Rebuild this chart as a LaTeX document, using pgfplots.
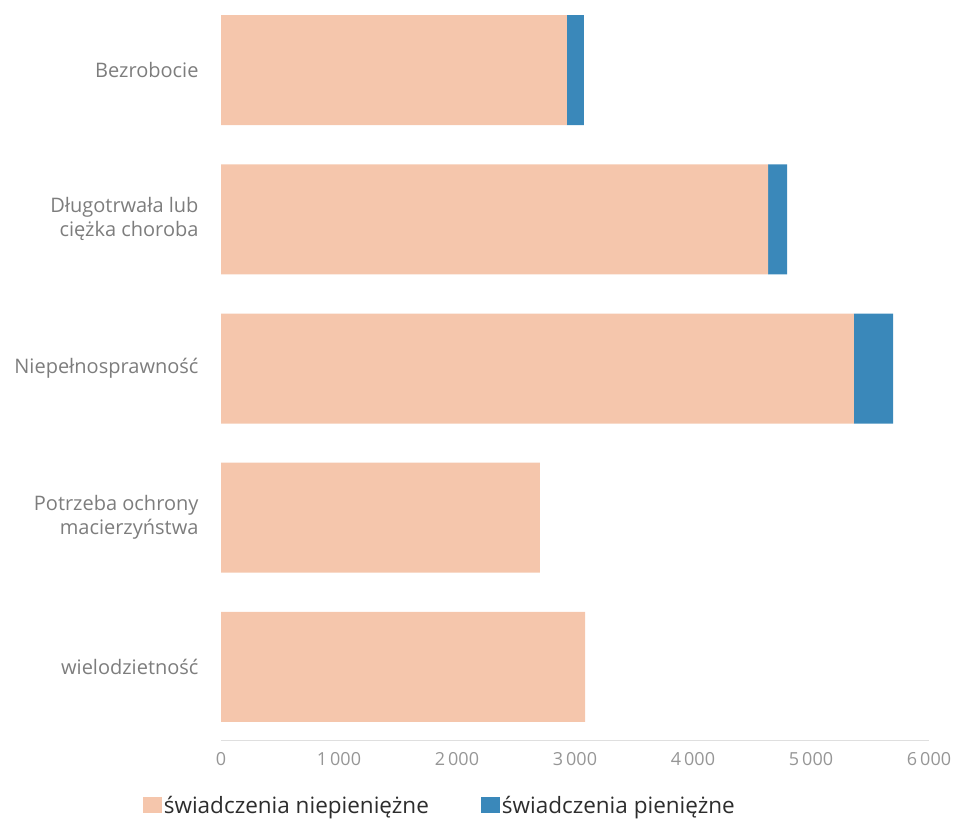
\documentclass[border=0pt]{standalone}
\usepackage{pgfplots}
\pgfplotsset{compat=1.18}
\usepackage{fontspec}
\setmainfont{Open Sans}
\definecolor{peach}{RGB}{245,198,172}
\definecolor{peachL}{RGB}{246,200,162}
\definecolor{blueF}{RGB}{58,136,186}
\definecolor{blueL}{RGB}{50,125,180}
\definecolor{lab}{RGB}{125,125,125}
\definecolor{tick}{RGB}{150,150,150}
\definecolor{leg}{RGB}{45,45,45}
\begin{document}
\begin{tikzpicture}
\path[use as bounding box] (0bp,0bp) rectangle (954bp,820bp);
\begin{axis}[
  at={(221bp,80bp)}, anchor=south west,
  scale only axis, width=708bp, height=740bp,
  xbar stacked, bar width=110bp,
  xmin=0, xmax=6000, ymin=-0.47, ymax=4.49,
  y dir=reverse,
  ytick={0,1,2,3,4},
  yticklabels={Bezrobocie, {Długotrwała lub\\ciężka choroba}, Niepełnosprawność, {Potrzeba ochrony\\macierzyństwa}, wielodzietność},
  xtick={0,1000,2000,3000,4000,5000,6000},
  xticklabels={0, 1\,000, 2\,000, 3\,000, 4\,000, 5\,000, 6\,000},
  axis x line=bottom, axis y line=left,
  x axis line style={-, draw=tick!30, line width=1bp},
  y axis line style={draw=none},
  major tick length=0pt,
  yticklabel style={align=right, text=lab, font=\fontsize{20bp}{24bp}\selectfont, xshift=-19bp},
  xticklabel style={text=tick, font=\fontsize{18bp}{21bp}\selectfont, yshift=-9bp},
  legend style={at={(0.309,-0.088)}, anchor=center, draw=none, fill=none,
    font=\fontsize{22.5bp}{26bp}\selectfont, text=leg,
    /tikz/every even column/.append style={column sep=50bp}},
  legend columns=2,
  legend image code/.code={\fill[#1] (0bp,-8bp) rectangle (19bp,8bp);},
  clip=false,
]
\addplot+[draw=none, fill=peach] coordinates {(2932,0) (4636,1) (5364,2) (2703,3) (3085,4)};
\addplot+[draw=none, fill=blueF] coordinates {(144,0) (161,1) (331,2) (0,3) (0,4)};
\legend{świadczenia niepieniężne, świadczenia pieniężne}
\end{axis}
\end{tikzpicture}
\end{document}
